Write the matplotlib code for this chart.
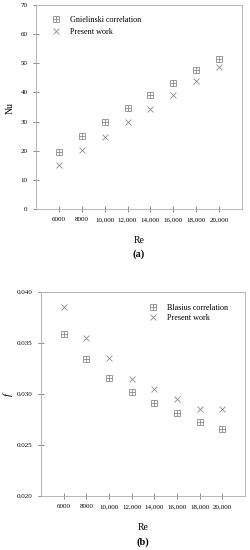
import numpy as np
import matplotlib.pyplot as plt

plt.rcParams['font.family'] = ['Liberation Serif', 'DejaVu Serif']

# Data
re = [6000, 8000, 10000, 12000, 14000, 16000, 18000, 20000]
re_labels = ['6000', '8000', '10,000', '12,000', '14,000', '16,000', '18,000', '20,000']

nu_gnielinski = [19.6, 24.9, 29.9, 34.6, 39.1, 43.4, 47.6, 51.6]
nu_present = [15.2, 20.1, 24.8, 29.7, 34.3, 39.0, 43.9, 48.7]

f_blasius = [0.0359, 0.0334, 0.0316, 0.0302, 0.0291, 0.0281, 0.0273, 0.0266]
f_present = [0.0385, 0.0355, 0.0335, 0.0315, 0.0305, 0.0295, 0.0285, 0.0285]

mk_col = '#8a8a8a'
spine_col = '#b5b5b5'


def boxplus(ax, x, y):
    sq, = ax.plot(x, y, ls='none', marker='s', ms=4.6, mfc='none', mec=mk_col, mew=0.6)
    pl, = ax.plot(x, y, ls='none', marker='+', ms=4.6, mec=mk_col, mew=0.6)
    return (sq, pl)


def style(ax):
    for s in ax.spines.values():
        s.set_color(spine_col)
        s.set_linewidth(0.7)
    ax.tick_params(direction='inout', length=4, width=0.6, color='#777777',
                   labelsize=5, pad=4)
    ax.set_xlim(4000, 22000)
    ax.set_xticks(re)
    ax.set_xticklabels(re_labels)


fig = plt.figure(figsize=(2.5, 5.5), dpi=100)

# (a) Nusselt number
ax1 = fig.add_axes([36 / 250, 1 - 209 / 550, 206 / 250, 204 / 550])
style(ax1)
h1 = boxplus(ax1, re, nu_gnielinski)
h2, = ax1.plot(re, nu_present, ls='none', marker='x', ms=4.2, mec=mk_col, mew=0.6)
ax1.set_ylim(0, 70)
ax1.set_yticks(np.arange(0, 71, 10))
fig.text(10 / 250, 1 - 108 / 550, 'Nu', fontsize=7, rotation=90,
         ha='center', va='center')
ax1.set_xlabel('Re', fontsize=7)
ax1.xaxis.set_label_coords(0.5, -0.132)
ax1.legend([h1, h2], ['Gnielinski correlation', 'Present work'],
           loc='upper left', bbox_to_anchor=(0.05, 0.975), frameon=False,
           fontsize=5.9, handletextpad=1.2, borderaxespad=0.3,
           labelspacing=0.55, handlelength=1.0)
ax1.text(0.5, -0.22, '(a)', transform=ax1.transAxes, ha='center', va='center',
         fontsize=7.5, fontweight='bold')

# (b) friction factor
ax2 = fig.add_axes([41 / 250, 1 - 496 / 550, 204 / 250, 204 / 550])
style(ax2)
h3 = boxplus(ax2, re, f_blasius)
h4, = ax2.plot(re, f_present, ls='none', marker='x', ms=4.2, mec=mk_col, mew=0.6)
ax2.set_ylim(0.020, 0.040)
ax2.set_yticks([0.020, 0.025, 0.030, 0.035, 0.040])
ax2.set_yticklabels(['0.020', '0.025', '0.030', '0.035', '0.040'])
fig.text(8 / 250, 1 - 394 / 550, 'f', fontsize=8, fontstyle='italic',
         rotation=90, ha='center', va='center')
ax2.set_xlabel('Re', fontsize=7)
ax2.xaxis.set_label_coords(0.5, -0.132)
ax2.legend([h3, h4], ['Blasius correlation', 'Present work'],
           loc='upper left', bbox_to_anchor=(0.50, 0.97), frameon=False,
           fontsize=5.9, handletextpad=1.2, borderaxespad=0.3,
           labelspacing=0.3, handlelength=1.0)
ax2.text(0.5, -0.225, '(b)', transform=ax2.transAxes, ha='center', va='center',
         fontsize=7.5, fontweight='bold')

fig.savefig('out.png', dpi=100)
